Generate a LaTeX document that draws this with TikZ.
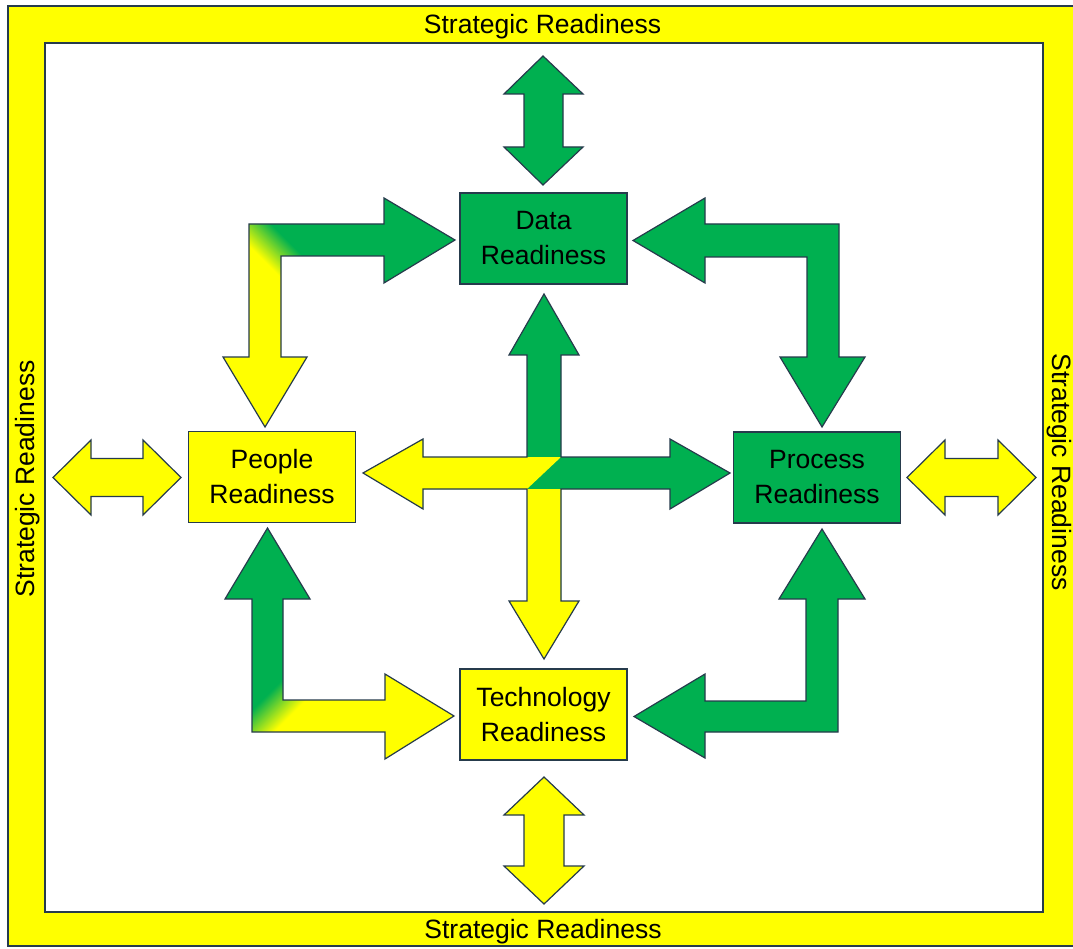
\documentclass[tikz,border=0pt]{standalone}
\usepackage{fontspec}
\setmainfont{Liberation Sans}
\definecolor{grn}{HTML}{00B050}
\definecolor{yel}{HTML}{FFFF00}
\definecolor{edge}{HTML}{263B4C}
% narrow yellow-to-green transition used on the bent arrows
\pgfdeclarehorizontalshading{ygband}{100bp}{color(0bp)=(yel); color(48.5bp)=(yel); color(51.5bp)=(grn); color(100bp)=(grn)}
\tikzset{
  outline/.style={draw=edge, line width=1.2pt, line join=miter},
  txt/.style={font=\fontsize{26.5}{35}\selectfont, text=black},
  box/.style={outline, txt, minimum width=167pt, minimum height=91pt, inner sep=0pt, align=center},
  frametext/.style={txt, inner sep=0pt}
}
% block arrow outlines
\def\shapeTL{(249,224) -- (384,224) -- (384,198) -- (455,240) -- (384,283) -- (384,256) -- (281,256) -- (281,357) -- (307,357) -- (265,427) -- (223,357) -- (249,357) -- cycle}
\def\shapeBL{(252,732) -- (252,599) -- (225,599) -- (267.5,528) -- (310,599) -- (283,599) -- (283,700) -- (385,700) -- (385,674) -- (454,716) -- (385,759) -- (385,732) -- cycle}
\def\shapeTR{(633,240.5) -- (705,198) -- (705,224) -- (839,224) -- (839,357) -- (865,357) -- (822,427) -- (780,357) -- (807,357) -- (807,257) -- (705,257) -- (705,283) -- cycle}
\def\shapeBR{(822,529) -- (865,599) -- (838,599) -- (838,732) -- (705,732) -- (705,758) -- (634,716.5) -- (705,674) -- (705,701) -- (806,701) -- (806,599) -- (779,599) -- cycle}
\def\shapeCross{(544,294) -- (579,355) -- (561,355) -- (561,457) -- (670,457) -- (670,439) -- (730,473) -- (670,509) -- (670,489) -- (561,489) -- (561,601) -- (579,601) -- (544,659) -- (509,601) -- (527,601) -- (527,489) -- (423,489) -- (423,509) -- (363,473) -- (423,439) -- (423,457) -- (527,457) -- (527,355) -- (509,355) -- cycle}
\begin{document}
\begin{tikzpicture}[x=1pt, y=-1pt]
\useasboundingbox (0,0) rectangle (1073,949);
\begin{scope}
\clip (0,0) rectangle (1073,949);
\fill[white] (0,0) rectangle (1073,949);

% outer yellow frame
\path[fill=yel, outline, even odd rule] (8,6) rectangle (1095,946) (45,43) rectangle (1043,912);
\node[frametext, anchor=base] (srTop) at (542.5,34) {Strategic Readiness};
\node[frametext, anchor=base] (srBottom) at (543,938) {Strategic Readiness};
\node[frametext, rotate=90] (srLeft) at (28,479) {Strategic Readiness};
\node[frametext, rotate=-90] (srRight) at (1059.5,472) {Strategic Readiness};

% readiness boxes
\node[box, fill=grn] (data) at (543.5,238.5) {Data\\Readiness};
\node[box, fill=yel] (people) at (272,477) {People\\Readiness};
\node[box, fill=grn] (process) at (817,477.5) {Process\\Readiness};
\node[box, fill=yel] (tech) at (543.5,714.5) {Technology\\Readiness};

% double arrows towards the frame
\path[fill=grn, outline] (543,56) -- (583,94) -- (563,94) -- (563,147) -- (583,147) -- (543,185) -- (504,147) -- (524,147) -- (524,94) -- (504,94) -- cycle;
\path[fill=yel, outline] (544,777) -- (584,815) -- (564,815) -- (564,866) -- (584,866) -- (544,904) -- (504,866) -- (524,866) -- (524,815) -- (504,815) -- cycle;
\path[fill=yel, outline] (53,477.5) -- (91,440) -- (91,458.5) -- (143,458.5) -- (143,440) -- (181,477.5) -- (143,515) -- (143,496.5) -- (91,496.5) -- (91,515) -- cycle;
\path[fill=yel, outline] (907,477.5) -- (945,440) -- (945,458.5) -- (998,458.5) -- (998,440) -- (1036,477.5) -- (998,515) -- (998,496.5) -- (945,496.5) -- (945,515) -- cycle;

% bent arrows
\begin{scope}
  \clip \shapeTL;
  \shade[shading=ygband, shading angle=45] (5,-20) rectangle (525,500);
\end{scope}
\draw[outline] \shapeTL;
\begin{scope}
  \clip \shapeBL;
  \shade[shading=ygband, shading angle=135] (7.5,456) rectangle (527.5,976);
\end{scope}
\draw[outline] \shapeBL;
\path[fill=grn, outline] \shapeTR;
\path[fill=grn, outline] \shapeBR;

% central four-way arrow
\begin{scope}
  \clip \shapeCross;
  \fill[grn] (340,280) rectangle (750,680);
  \fill[yel] (340,420) -- (505,420) -- (505,457) -- (561,457) -- (527,489) -- (600,489) -- (600,680) -- (340,680) -- cycle;
\end{scope}
\draw[outline] \shapeCross;
\end{scope}
\end{tikzpicture}
\end{document}
